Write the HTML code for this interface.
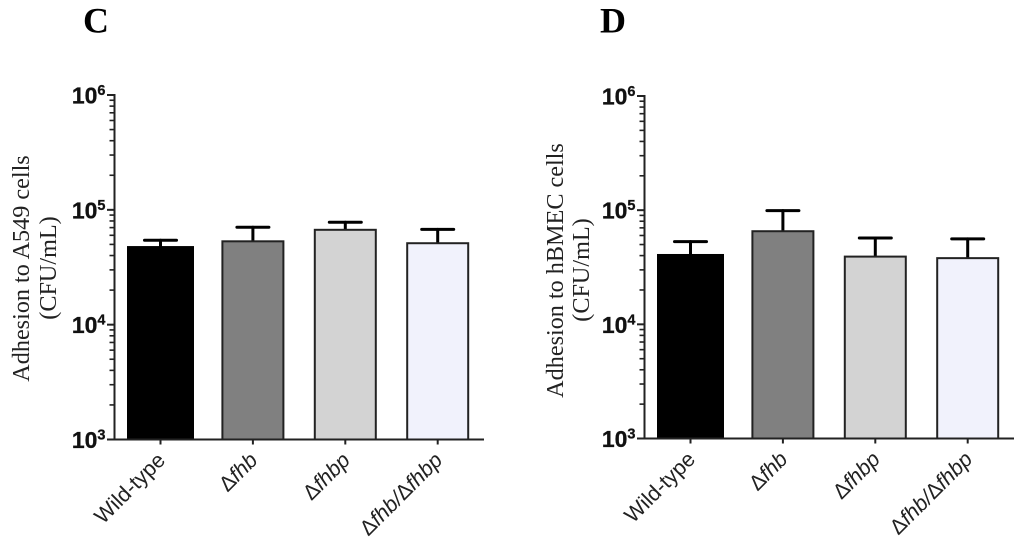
<!DOCTYPE html>
<html>
<head>
<meta charset="utf-8">
<style>
html,body{margin:0;padding:0;background:#fff;}
svg{display:block;}
text{fill:#000;}
.tick{font-family:"Liberation Sans",sans-serif;font-weight:bold;font-size:23px;fill:#111;stroke:#111;stroke-width:0.3px;}
.title{font-family:"Liberation Serif",serif;font-size:24.2px;fill:#222;}
.cat{font-family:"Liberation Sans",sans-serif;font-size:21.5px;fill:#222;}
.panel{font-family:"Liberation Serif",serif;font-weight:bold;font-size:36px;}
</style>
</head>
<body>
<svg id="fig" xmlns="http://www.w3.org/2000/svg" width="1024" height="541" viewBox="0 0 1024 541">
<rect width="1024" height="541" fill="#fff"/>
</svg>
<script>
const categories = ['Wild-type', 'Δfhb', 'Δfhbp', 'Δfhb/Δfhbp'];
const barColors = ['#000000', '#808080', '#d3d3d3', '#f1f2fc'];
const exponents = [3, 4, 5, 6];
const minorMultipliers = [2, 3, 4, 5, 6, 7, 8, 9];
const valuesC = [47400, 53200, 67000, 51200];
const errorTopsC = [54300, 70500, 78000, 67600];
const valuesD = [40500, 65400, 39200, 38000];
const errorTopsD = [53000, 99000, 57100, 56000];

const NS = 'http://www.w3.org/2000/svg';
const fig = document.getElementById('fig');

function make(parent, tag, attrs, text) {
  const el = document.createElementNS(NS, tag);
  for (const k in attrs) el.setAttribute(k, attrs[k]);
  if (text !== undefined) el.textContent = text;
  parent.appendChild(el);
  return el;
}

function drawChart(cfg) {
  const g = make(fig, 'g', {});
  
  

  const y = v => cfg.yBottom - (Math.log10(v) - 3) * (cfg.yBottom - cfg.yTop) / 3;
  const x = i => cfg.xFirst + i * cfg.xStep;
  const axisColor = '#222';

  const panel = make(g, 'text', {class: 'panel', x: cfg.panelX, y: 32.5}, cfg.letter);
  
  

  // error bars are drawn first so that bars cover the lower stem end
  categories.forEach((c, i) => {
    const eb = make(g, 'g', {stroke: '#000', 'stroke-width': 3, 'stroke-linecap': 'round'});
    
    
    make(eb, 'line', {x1: x(i), x2: x(i), y1: y(cfg.values[i]), y2: y(cfg.errors[i])});
    make(eb, 'line', {x1: x(i) - 16, x2: x(i) + 16, y1: y(cfg.errors[i]), y2: y(cfg.errors[i])});

    const bw = i === 0 ? 65 : 61;
    const bar = make(g, 'rect', {
      x: x(i) - bw / 2, y: y(cfg.values[i]),
      width: bw, height: cfg.yBottom - y(cfg.values[i]),
      fill: barColors[i], stroke: i === 0 ? '#000' : '#222', 'stroke-width': 2
    });
    
    
  });

  // y axis
  const yAxis = make(g, 'line', {
    x1: cfg.axisX, x2: cfg.axisX, y1: cfg.yTop - 1, y2: cfg.yBottom + 1,
    stroke: axisColor, 'stroke-width': 2
  });
  
  

  exponents.forEach(e => {
    const major = make(g, 'line', {
      x1: cfg.xAxisStart, x2: cfg.axisX, y1: y(Math.pow(10, e)), y2: y(Math.pow(10, e)),
      stroke: axisColor, 'stroke-width': 2
    });
    
    

    const label = make(g, 'text', {
      class: 'tick', x: cfg.axisX - 9, y: y(Math.pow(10, e)) + 8.5, 'text-anchor': 'end'
    });
    
    
    make(label, 'tspan', {}, '10');
    make(label, 'tspan', {dy: -8.5, 'font-size': 14.5}, String(e));

    if (e < exponents[exponents.length - 1]) {
      minorMultipliers.forEach(m => {
        const minor = make(g, 'line', {
          x1: cfg.axisX - 5, x2: cfg.axisX,
          y1: y(m * Math.pow(10, e)), y2: y(m * Math.pow(10, e)),
          stroke: axisColor, 'stroke-width': 1.6
        });
        
        
      });
    }
  });

  // x axis
  const xAxis = make(g, 'line', {
    x1: cfg.xAxisStart, x2: cfg.xAxisEnd, y1: cfg.yBottom, y2: cfg.yBottom,
    stroke: axisColor, 'stroke-width': 2
  });
  
  

  categories.forEach((c, i) => {
    const t = make(g, 'line', {
      x1: x(i), x2: x(i), y1: cfg.yBottom, y2: cfg.yBottom + 5,
      stroke: axisColor, 'stroke-width': 2
    });
    
    

    const lx = x(i) + 6, ly = cfg.yBottom + 22;
    const lab = make(g, 'text', {
      class: 'cat', x: lx, y: ly, 'text-anchor': 'end',
      transform: 'rotate(-45 ' + lx + ' ' + ly + ')'
    });
    
    
    // the gene names are italic; the delta sign and other labels stay upright
    c.split(/(Δ)/).filter(Boolean).forEach(part => {
      const italic = c.indexOf('Δ') >= 0 && part !== 'Δ';
      make(lab, 'tspan', italic ? {'font-style': 'italic'} : {}, part);
    });
  });

  // axis title
  const t1 = make(g, 'text', {
    class: 'title', 'text-anchor': 'middle',
    transform: 'translate(' + cfg.titleX1 + ' ' + cfg.titleY1 + ') rotate(-90)'
  }, cfg.title);
  
  

  const t2 = make(g, 'text', {
    class: 'title', 'text-anchor': 'middle',
    transform: 'translate(' + cfg.titleX2 + ' ' + cfg.titleY2 + ') rotate(-90)'
  }, '(CFU/mL)');
  
  
}

drawChart({
  letter: 'C', panelX: 83, values: valuesC, errors: errorTopsC,
  axisX: 114.5, xAxisStart: 107, xAxisEnd: 484,
  yTop: 95, yBottom: 439.5, xFirst: 160.5, xStep: 92.4,
  title: 'Adhesion to A549 cells',
  titleX1: 29, titleY1: 268.5, titleX2: 56, titleY2: 268
});
drawChart({
  letter: 'D', panelX: 600, values: valuesD, errors: errorTopsD,
  axisX: 644.5, xAxisStart: 637, xAxisEnd: 1014,
  yTop: 96, yBottom: 438.5, xFirst: 690.5, xStep: 92.4,
  title: 'Adhesion to hBMEC cells',
  titleX1: 563, titleY1: 270.5, titleX2: 589, titleY2: 270
});
</script>
</body>
</html>
